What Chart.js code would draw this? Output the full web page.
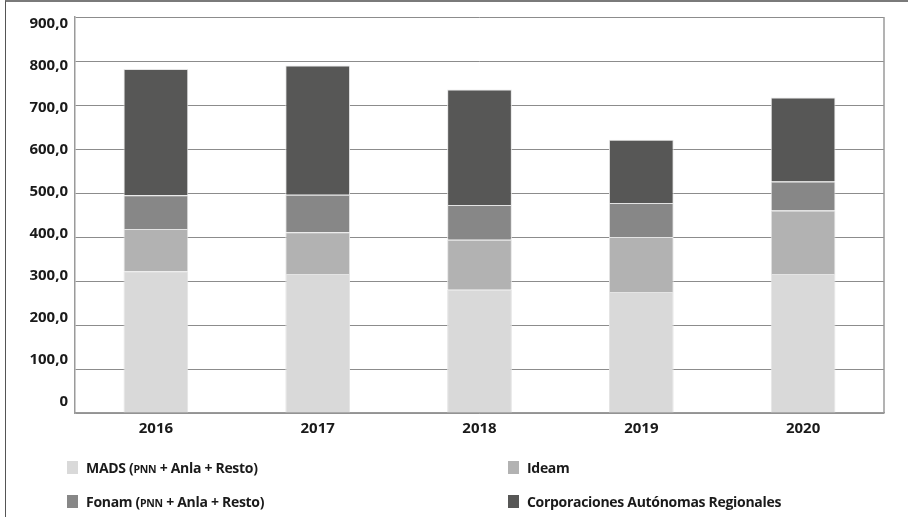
<!DOCTYPE html>
<html>
<head>
<meta charset="utf-8">
<script src="https://cdn.jsdelivr.net/npm/chart.js@4"></script>
<style>
  html, body { margin: 0; padding: 0; background: #fff; }
  #marco { position: relative; width: 908px; height: 517px; overflow: hidden; }
  #borde { position: absolute; left: 5px; top: 0; right: 0; bottom: 0; border-top: 2px solid #7a7a7a; border-left: 1px solid #555; }
  #grafica { position: absolute; left: 0; top: 0; }
  #leyenda { position: absolute; left: 0; top: 0; width: 908px; height: 517px; pointer-events: none;
             font-family: 'Open Sans', 'Noto Sans', sans-serif; font-weight: bold; font-size: 14px;
             letter-spacing: -0.3px; color: #1a1a1a; }
  .item { position: absolute; display: flex; align-items: center; white-space: nowrap; height: 20px; }
  .caja { width: 11px; height: 13px; margin-right: 8px; }
  .sc { font-size: 10.5px; }
</style>
</head>
<body>
<div id="marco">
  <div id="borde"></div>
  <canvas id="grafica" width="908" height="517"></canvas>
  <div id="leyenda"></div>
</div>
<script>
// Millones de pesos por año y entidad
const anios = ['2016', '2017', '2018', '2019', '2020'];
const mads = [322, 316, 280, 275, 316];
const ideam = [96, 95, 114, 125, 144];
const fonam = [77, 85, 79, 77, 66];
const car = [287, 294, 262, 144, 191];
const ticksY = [0, 100, 200, 300, 400, 500, 600, 700, 800, 900];

const nombres = ['MADS (PNN + Anla + Resto)', 'Ideam', 'Fonam (PNN + Anla + Resto)', 'Corporaciones Autónomas Regionales'];
const colores = ['#d9d9d9', '#b2b2b2', '#878787', '#575756'];

const fuente = { family: "'Open Sans', 'Noto Sans', sans-serif", weight: 'bold', size: 15 };

function serie(i, datos) {
    return {
        label: nombres[i],
        data: datos,
        backgroundColor: colores[i],
        borderColor: '#e4e4e4',
        borderWidth: 1,
        categoryPercentage: 1,
        barPercentage: 0.4
    };
}

// borde derecho del área de trazado
const bordeDerecho = {
    id: 'bordeDerecho',
    afterDraw(chart) {
        const a = chart.chartArea;
        const ctx = chart.ctx;
        ctx.save();
        ctx.strokeStyle = '#9a9a9a';
        ctx.lineWidth = 1.5;
        ctx.beginPath();
        ctx.moveTo(a.right, a.top);
        ctx.lineTo(a.right, a.bottom);
        ctx.stroke();
        ctx.restore();
    }
};

const grafica = new Chart(document.getElementById('grafica'), {
    type: 'bar',
    data: {
        labels: anios,
        datasets: [serie(0, mads), serie(1, ideam), serie(2, fonam), serie(3, car)]
    },
    options: {
        responsive: false,
        animation: false,
        layout: { padding: { top: 17, right: 24, bottom: 84, left: 0 } },
        plugins: { legend: { display: false }, tooltip: { enabled: false } },
        scales: {
            x: {
                stacked: true,
                grid: { display: false, drawTicks: false },
                border: { color: '#9a9a9a', width: 1.5 },
                ticks: { font: fuente, color: '#1a1a1a', padding: 7 },
                afterFit(s) { s.height = 20; }
            },
            y: {
                stacked: true,
                min: 0,
                max: 900,
                afterBuildTicks(s) { s.ticks = ticksY.map(v => ({ value: v })); },
                grid: { color: '#8c8c8c', lineWidth: 1, drawTicks: false },
                border: { color: '#9a9a9a', width: 1.5 },
                ticks: { display: false },
                afterFit(s) { s.width = 0; }
            },
            // etiquetas del eje con su propio espaciado
            yEtiquetas: {
                position: 'left',
                min: -26.2,
                max: 916.7,
                afterBuildTicks(s) { s.ticks = ticksY.map(v => ({ value: v })); },
                grid: { display: false, drawTicks: false },
                border: { display: false },
                ticks: {
                    font: fuente,
                    color: '#1a1a1a',
                    padding: 7,
                    callback: v => v === 0 ? '0' : v.toFixed(1).replace('.', ',')
                },
                afterFit(s) { s.width = 75; }
            }
        }
    },
    plugins: [bordeDerecho]
});

// leyenda en dos columnas
const posiciones = [[67, 467], [508, 467], [67, 501], [508, 501]];
const leyenda = document.getElementById('leyenda');
grafica.data.datasets.forEach((d, i) => {
    const el = document.createElement('div');
    el.className = 'item';
    el.style.left = posiciones[i][0] + 'px';
    el.style.top = (posiciones[i][1] - 10) + 'px';
    const texto = d.label.replace('PNN', '<span class="sc">PNN</span>');
    el.innerHTML = '<span class="caja" style="background:' + d.backgroundColor + '"></span><span>' + texto + '</span>';
    leyenda.appendChild(el);
});
</script>
</body>
</html>
